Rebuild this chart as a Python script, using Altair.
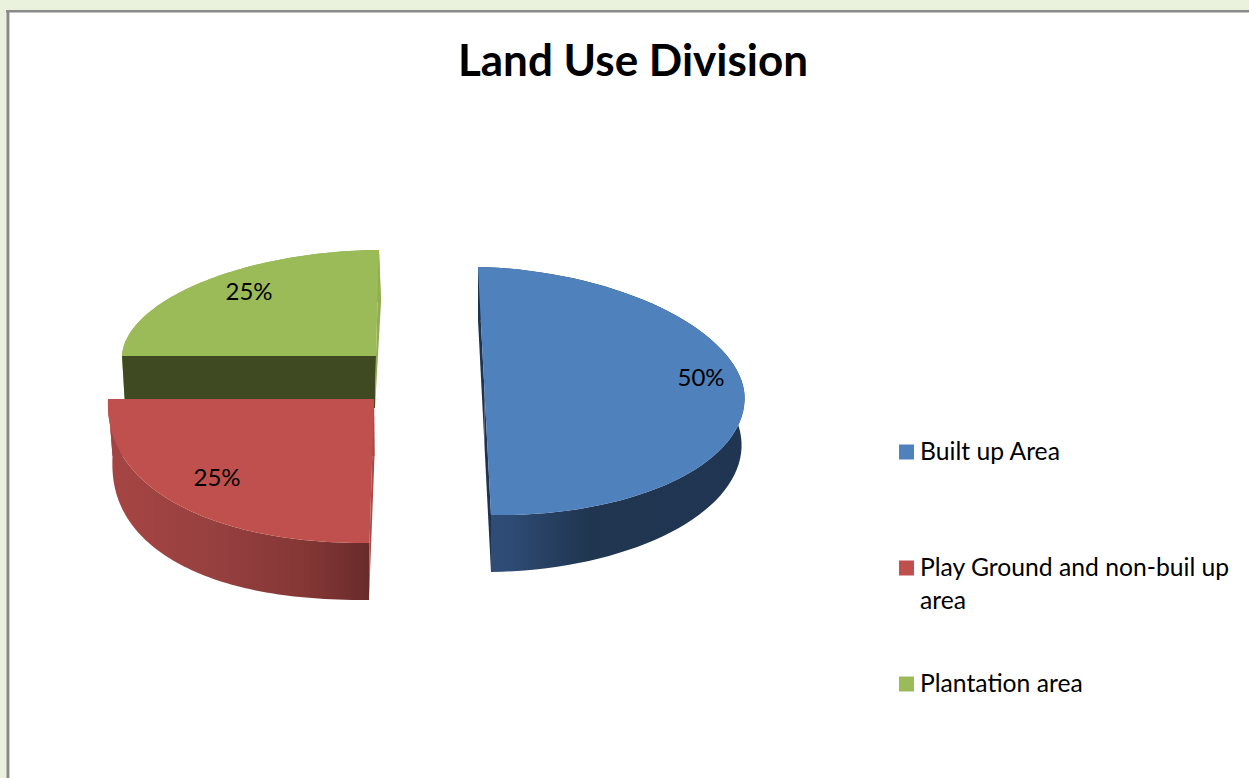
import math
import altair as alt
import pandas as pd

# Land use shares, in drawing order around each wedge
names = ["Built up Area", "Play Ground and non-buil up area", "Plantation area"]
shares = [0.50, 0.25, 0.25]
legend_text = ["Built up Area", "Play Ground and non-buil up\narea", "Plantation area"]
top_colors = ["#4F81BD", "#C0504D", "#9BBB59"]
title_text = "Land Use Division"

FRAME_W, FRAME_H = 1242, 767
OX, OY = 7, 11  # frame origin inside the page


def px(x, y):
    return x - OX, y - OY


# Each exploded wedge is a skewed circle: centre, two half-axes, and a pair of
# roundness powers (for the negative and positive half of the sweep), once for
# the top face and once for the bottom face.
wedges = [
    dict(start=-90.0,
         top=((484.5, 391), (260, 4), (6.5, 124), (1.05, 1.0)),
         bot=((484.5, 446), (257, -4), (6.5, 126), (1.0, 1.0)),
         wall_stops=[("#2f4d78", 0), ("#2d4b74", 0.12), ("#263f60", 0.28), ("#203650", 0.42), ("#1f3552", 1)],
         side_start="#1d3350", side_end="#1d3350"),
    dict(start=0.0,
         top=((374, 399), (-266, 0), (-4.5, 144), (1.0, 0.91)),
         bot=((374.5, 456), (-262, 0), (-5.5, 144), (1.0, 0.87)),
         wall_stops=[("#a64543", 0), ("#974040", 0.4), ("#843735", 0.75), ("#6a2b2b", 1)],
         side_start="#a04543", side_end="#a64b48"),
    dict(start=0.0,
         top=((376, 356), (-254, 0), (3, -106), (1.0, 1.05)),
         bot=((375, 408), (-250, -3), (6, -106), (1.0, 1.0)),
         wall_stops=[("#8fb04a", 0), ("#8fb04a", 1)],
         side_start="#3f4a23", side_end="#90ad52"),
]


def ring(frame, t_deg):
    (cx, cy), (ux, uy), (vx, vy), (p_neg, p_pos) = frame
    t = math.radians(t_deg)
    c, s = math.cos(t), math.sin(t)
    p = p_neg if s < 0 else p_pos
    c = math.copysign(abs(c) ** p, c)
    s = math.copysign(abs(s) ** p, s)
    return cx + ux * c + vx * s, cy + uy * c + vy * s


def sweep(start, share, n=72):
    return [start + 360 * share * i / n for i in range(n + 1)]


def polygon(points):
    rows = []
    for i, (x, y) in enumerate(points):
        fx, fy = px(x, y)
        rows.append({"i": i, "x": fx, "y": fy})
    return pd.DataFrame(rows)


x_scale = alt.Scale(domain=[0, FRAME_W], nice=False, zero=False)
y_scale = alt.Scale(domain=[FRAME_H, 0], nice=False, zero=False)
X = alt.X("x:Q", scale=x_scale, axis=None)
Y = alt.Y("y:Q", scale=y_scale, axis=None)


def shape(points, fill):
    return alt.Chart(polygon(points + points[:1])).mark_line(
        fill=fill, strokeWidth=0, interpolate="linear"
    ).encode(x=X, y=Y, order=alt.Order("i:Q"))


layers = []

# Frame edges: only the top and left sides fall inside the page
layers.append(
    alt.Chart(pd.DataFrame({"x": [0.75], "y": [0], "y2": [FRAME_H]}))
    .mark_rule(color="#8A8A8A", strokeWidth=2.5)
    .encode(x=X, y=Y, y2="y2:Q")
)
layers.append(
    alt.Chart(pd.DataFrame({"x": [2.5], "y": [1], "y2": [FRAME_H]}))
    .mark_rule(color="#CFCFCF", strokeWidth=1)
    .encode(x=X, y=Y, y2="y2:Q")
)
layers.append(
    alt.Chart(pd.DataFrame({"x": [-1], "x2": [FRAME_W], "y": [0.2]}))
    .mark_rule(color="#8A8A8A", strokeWidth=2.5)
    .encode(x=X, x2="x2:Q", y=Y)
)

# Back to front: plantation, then built-up area, then playground
for idx in [2, 0, 1]:
    w = wedges[idx]
    ts = sweep(w["start"], shares[idx])
    top_c, bot_c = w["top"][0], w["bot"][0]
    top_arc = [ring(w["top"], t) for t in ts]
    bot_arc = [ring(w["bot"], t) for t in ts]
    wall_fill = alt.Gradient(
        gradient="linear", x1=0, y1=0, x2=1, y2=0,
        stops=[alt.GradientStop(color=c, offset=o) for c, o in w["wall_stops"]],
    )
    layers.append(shape(top_arc + bot_arc[::-1], wall_fill))
    layers.append(shape([top_c, top_arc[0], bot_arc[0], bot_c], w["side_start"]))
    layers.append(shape([top_c, top_arc[-1], bot_arc[-1], bot_c], w["side_end"]))
    layers.append(shape([top_c] + top_arc, top_colors[idx]))

# Percentage labels on the top faces
label_pos = [px(701, 379), px(217, 479), px(249, 293)]
labels = pd.DataFrame({
    "x": [p[0] for p in label_pos],
    "y": [p[1] for p in label_pos],
    "t": [f"{round(s * 100)}%" for s in shares],
})
layers.append(
    alt.Chart(labels).mark_text(font="Lato", fontSize=24, color="#000000").encode(x=X, y=Y, text="t:N")
)

# Title
layers.append(
    alt.Chart(pd.DataFrame({"x": [px(633, 0)[0]], "y": [px(0, 63)[1]], "t": [title_text]}))
    .mark_text(font="Lato", fontSize=44, fontWeight="bold", color="#000000")
    .encode(x=X, y=Y, text="t:N")
)

# Key on the right: swatches and wrapped labels
key_x, key_ys = 906.5, [452, 568, 684]
key = pd.DataFrame({
    "x": [px(key_x, 0)[0]] * 3,
    "y": [px(0, v)[1] for v in key_ys],
    "name": names,
    "tx": [px(920, 0)[0]] * 3,
    "ty": [px(0, v + 1)[1] for v in key_ys],
    "label": legend_text,
})
layers.append(
    alt.Chart(key).mark_square(size=225, opacity=1, strokeWidth=0).encode(
        x=X, y=Y,
        color=alt.Color("name:N", scale=alt.Scale(domain=names, range=top_colors), legend=None),
    )
)
layers.append(
    alt.Chart(key).mark_text(
        font="Lato", fontSize=24.7, color="#000000", align="left", baseline="middle",
        lineBreak="\n", lineHeight=33,
    ).encode(x=alt.X("tx:Q", scale=x_scale, axis=None), y=alt.Y("ty:Q", scale=y_scale, axis=None), text="label:N")
)

chart = (
    alt.layer(*layers)
    .properties(
        width=FRAME_W, height=FRAME_H,
        padding={"left": OX, "top": OY, "right": 0, "bottom": 0},
        background="#EAF1DD",
        autosize=alt.AutoSizeParams(type="none"),
    )
    .configure_view(fill="#FFFFFF", strokeWidth=0)
)

chart.save("out.html", embed_options={"renderer": "svg", "actions": False})
